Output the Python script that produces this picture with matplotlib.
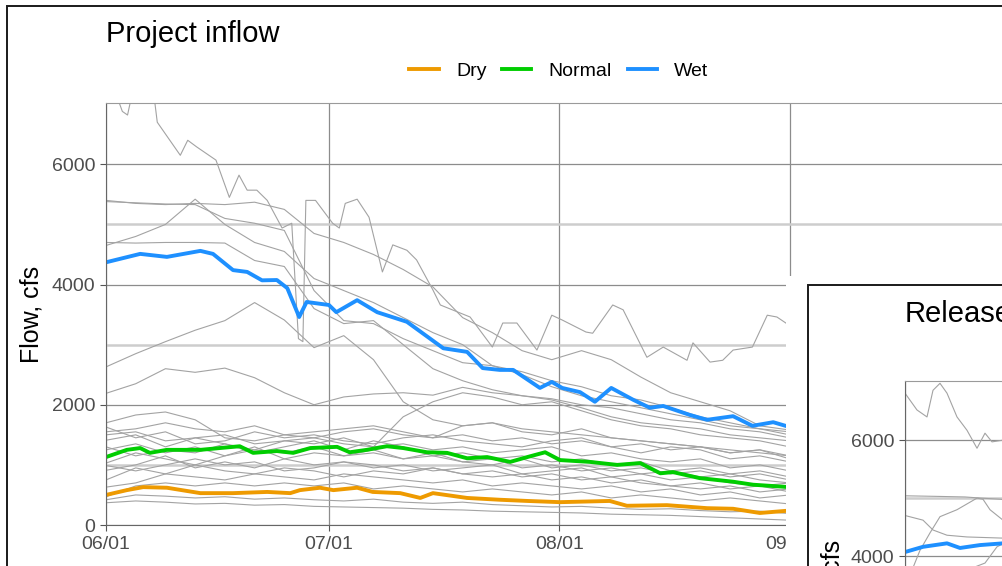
#!/usr/bin/env python3
"""Project inflow traces by year, with the release panel overlapping bottom right."""
import matplotlib

matplotlib.use("Agg")
import matplotlib.dates as mdates
import matplotlib.pyplot as plt
import pandas as pd
from matplotlib.patches import Rectangle
from matplotlib.ticker import FixedLocator

plt.rcParams["font.family"] = ["Liberation Sans", "DejaVu Sans"]

START = pd.Timestamp("2021-06-01")
END = pd.Timestamp("2021-10-01")

# --- data (day offsets from 06/01, flow in cfs) ---------------------------
wet_days = [0, 4.6, 8.2, 12.7, 14.4, 17.1, 19, 21, 23, 24.4, 26, 27, 30, 31, 33.8, 36.5,
            40.5, 45.4, 48.6, 50.7, 53, 54.8, 58.4, 60, 61.4, 63.8, 65.8, 68, 71, 73.2,
            75, 78.6, 80.9, 84.4, 87, 89.8, 92]
wet_flow = [4370, 4510, 4460, 4560, 4510, 4240, 4210, 4070, 4075, 3940, 3460, 3710, 3660,
            3540, 3740, 3540, 3380, 2940, 2880, 2610, 2580, 2580, 2280, 2380, 2280, 2210,
            2050, 2280, 2080, 1950, 1980, 1830, 1750, 1810, 1650, 1710, 1630]

normal_days = [0, 2.8, 4.6, 5.9, 8.2, 12.7, 15.3, 18, 19.8, 23, 25.2, 27.5, 31.1, 32.8,
               35.1, 37.8, 40, 43.2, 45.9, 48.6, 51.3, 54.4, 56.7, 59.1, 61.1, 65.1, 68.8,
               71.9, 74.6, 76.3, 79.9, 84.4, 87.1, 92]
normal_flow = [1130, 1250, 1280, 1200, 1250, 1250, 1280, 1310, 1200, 1230, 1200, 1280, 1300,
               1210, 1250, 1310, 1280, 1210, 1200, 1110, 1130, 1050, 1130, 1210, 1080, 1050,
               1000, 1030, 860, 880, 780, 720, 670, 630]

dry_days = [0, 2.8, 5, 8.2, 12.7, 17.1, 21.7, 24.8, 26.1, 28.8, 30.6, 33.8, 35.9, 39.6,
            42.3, 44, 48.6, 53, 56.7, 61.1, 67.8, 70.1, 75.5, 80.9, 84.4, 88, 92]
dry_flow = [500, 580, 630, 620, 530, 530, 550, 530, 580, 620, 580, 620, 550, 530, 450, 530,
            450, 420, 400, 380, 400, 320, 330, 280, 270, 200, 240]

# individual years, the high ones traced on their own days
peak_days = [1.7, 2.2, 2.9, 3.3]
peak_flow = [7050, 6880, 6820, 7050]

high_days = [6.5, 6.9, 10, 11, 12.2, 14.8, 16.6, 17.9, 19, 20.3, 21.7, 23.7, 25, 25.9, 26.5,
             26.9, 28.2, 30.5, 31.4, 32.2, 33.8, 35.4, 37.2, 38.6, 40.5, 41.8, 44, 45, 49,
             52, 53.4, 55.3, 58, 60, 61.4, 64.6, 65.5, 68.2, 69.6, 72.8, 75, 78.2, 79, 81.3,
             83, 84.4, 87, 89, 90.3, 91.5]
high_flow = [7100, 6700, 6150, 6400, 6290, 6070, 5450, 5820, 5570, 5570, 5400, 4940, 5020,
             3100, 3050, 5400, 5400, 5020, 4940, 5350, 5420, 5120, 4210, 4660, 4570, 4410,
             3910, 3660, 3460, 2960, 3360, 3360, 2910, 3490, 3410, 3210, 3190, 3660, 3580,
             2790, 2960, 2740, 3030, 2710, 2740, 2910, 2960, 3490, 3460, 3360]

# remaining years on a 4-day grid
grid_days = list(range(0, 93, 4))
year_e = [5400, 5350, 5330, 5350, 5330, 5370, 5250, 4850, 4700, 4500, 4250, 3960, 3450, 3200,
          2900, 2750, 2900, 2750, 2460, 2200, 2050, 1900, 1650, 1580]
year_e2 = [5380, 5360, 5340, 5330, 5100, 5020, 4900, 3900, 3400, 3350, 3100, 2900, 2700, 2650,
           2500, 2300, 2150, 2050, 1950, 1850, 1750, 1650, 1600, 1550]
year_f = [4700, 4690, 4700, 4700, 4690, 4400, 4300, 3600, 3350, 3400, 3000, 2600, 2400, 2250,
          2150, 2100, 2000, 1950, 1850, 1750, 1700, 1600, 1550, 1450]
year_g = [4650, 4800, 5000, 5420, 5000, 4700, 4550, 4100, 3900, 3700, 3450, 3200, 3000, 2650,
          2550, 2400, 2300, 2150, 2080, 1950, 1800, 1700, 1600, 1500]
year_h = [2630, 2850, 3050, 3240, 3400, 3700, 3410, 2950, 3150, 2750, 2050, 1750, 1650, 1700,
          1600, 1550, 1500, 1450, 1400, 1350, 1300, 1250, 1200, 1150]
year_j = [2190, 2350, 2600, 2540, 2610, 2450, 2200, 2000, 2130, 2180, 2200, 2160, 2290, 2200,
          2150, 2080, 1950, 1800, 1700, 1650, 1600, 1500, 1450, 1400]
year_k = [1500, 1550, 1400, 1450, 1500, 1350, 1400, 1450, 1350, 1300, 1800, 2050, 2200, 2130,
          2000, 2050, 1900, 1750, 1650, 1600, 1500, 1450, 1400, 1300]
year_01 = [1700, 1830, 1880, 1750, 1450, 1400, 1500, 1450, 1550, 1600, 1500, 1450, 1650, 1700,
           1550, 1500, 1600, 1450, 1400, 1350, 1300, 1200, 1250, 1150]
year_02 = [1630, 1450, 1550, 1350, 1400, 1550, 1450, 1500, 1400, 1350, 1450, 1500, 1400, 1350,
           1300, 1400, 1450, 1300, 1200, 1300, 1250, 1100, 1150, 1050]
year_03 = [1410, 1500, 1300, 1450, 1350, 1250, 1400, 1350, 1450, 1300, 1350, 1250, 1300, 1200,
           1250, 1300, 1150, 1200, 1100, 1050, 1100, 950, 1000, 900]
year_04 = [1300, 1150, 1250, 1200, 1350, 1200, 1300, 1400, 1250, 1400, 1300, 1150, 1200, 1100,
           1150, 1050, 1100, 1000, 1050, 900, 950, 850, 900, 800]
year_05 = [1030, 1200, 1100, 1000, 1150, 1300, 1100, 1200, 1150, 1250, 1100, 1200, 1050, 1100,
           950, 1000, 900, 950, 850, 900, 800, 850, 750, 700]
year_06 = [910, 1000, 1150, 950, 1050, 950, 1100, 1000, 1050, 950, 1000, 900, 950, 1000, 850,
           900, 950, 800, 850, 750, 800, 700, 650, 700]
year_07 = [750, 950, 850, 1000, 900, 850, 950, 900, 800, 900, 850, 950, 850, 800, 850, 750, 800,
           700, 750, 650, 700, 600, 650, 550]
year_08 = [630, 700, 850, 800, 750, 850, 800, 750, 850, 800, 750, 700, 750, 650, 700, 650, 600,
           650, 550, 600, 500, 550, 450, 500]
year_09 = [470, 650, 700, 650, 700, 650, 700, 650, 700, 600, 650, 600, 550, 600, 550, 500, 550,
           450, 500, 450, 400, 450, 400, 350]
year_10 = [420, 500, 480, 450, 470, 430, 450, 420, 400, 430, 380, 360, 380, 340, 320, 300, 310,
           280, 260, 270, 240, 220, 230, 190]
year_11 = [370, 400, 380, 350, 360, 330, 340, 310, 300, 290, 280, 260, 250, 230, 220, 210, 200,
           180, 170, 160, 140, 120, 100, 80]
year_12 = [1250, 1350, 1200, 1300, 1150, 1250, 1200, 1300, 1150, 1200, 1100, 1150, 1050, 1000,
           1100, 950, 1000, 900, 950, 850, 900, 800, 850, 750]
year_13 = [990, 900, 1000, 1100, 1000, 1050, 900, 950, 1050, 1000, 900, 950, 850, 900, 800,
           850, 750, 800, 700, 650, 600, 650, 550, 600]
year_14 = [1550, 1600, 1700, 1600, 1550, 1650, 1500, 1550, 1600, 1650, 1550, 1450, 1500, 1400,
           1450, 1350, 1400, 1300, 1350, 1250, 1300, 1200, 1250, 1100]

grid_years = [year_e, year_e2, year_f, year_g, year_h, year_j, year_k, year_01, year_02,
              year_03, year_04, year_05, year_06, year_07, year_08, year_09, year_10, year_11,
              year_12, year_13, year_14]

# release panel (only its top-left corner is in view)
rel_top_days = [0, 3, 5.5, 7, 8.75, 10.5, 13, 15.5, 18, 20, 21.75, 24.5, 27]
rel_top_flow = [6810, 6520, 6400, 6860, 6980, 6810, 6400, 6170, 5860, 6120, 5970, 6000, 5980]
rel_flat_days = [0, 8, 15, 19, 24, 27]
rel_flat_flow = [5040, 5030, 5020, 5000, 4980, 4950]
rel_fall_days = [0, 4.5, 7, 10.5, 15.5, 24.5, 27]
rel_fall_flow = [4700, 4620, 4450, 4360, 4330, 4310, 4300]
rel_rise_days = [2, 3.75, 6.25, 8.75, 13, 18, 19.5, 21.25, 24.5, 27]
rel_rise_flow = [3800, 4100, 4400, 4680, 4800, 5000, 4980, 4800, 4620, 4500]
rel_low_days = [17, 20, 23, 27]
rel_low_flow = [3800, 3880, 4160, 4300]
rel_wet_days = [0, 4.5, 10.5, 13.75, 18.75, 24.5, 27]
rel_wet_flow = [4070, 4160, 4220, 4140, 4190, 4220, 4200]

W, H = 1003, 566
DRY, NORMAL, WET, GREY = "#EE9A00", "#00CD00", "#1E90FF", "#a3a3a3"


def to_dates(days):
    return START + pd.to_timedelta(days, unit="D")


def fig_box(left, top, right, bottom):
    return [left / W, 1 - bottom / H, (right - left) / W, (bottom - top) / H]


def style_axes(ax):
    ax.set_xlim(START, END)
    ax.set_ylim(0, 7020)
    ax.set_axisbelow(True)
    ax.yaxis.set_major_locator(FixedLocator([0, 2000, 4000, 6000]))
    ax.yaxis.set_minor_locator(FixedLocator([1000, 3000, 5000]))
    ax.xaxis.set_major_locator(mdates.MonthLocator())
    ax.xaxis.set_major_formatter(mdates.DateFormatter("%m/%d"))
    ax.grid(which="major", color="#8c8c8c", lw=0.9)
    ax.grid(which="minor", axis="y", color="#cdcdcd", lw=1.8)
    ax.tick_params(which="major", length=4.3, width=0.8, color="#555555",
                   labelsize=14, labelcolor="#4d4d4d", pad=3.5)
    ax.tick_params(which="minor", length=0)
    for side in ("left", "bottom"):
        ax.spines[side].set_color("#666666")
    for side in ("top", "right"):
        ax.spines[side].set_color("#9a9a9a")


fig = plt.figure(figsize=(W / 100, H / 100), dpi=100)

# main panel: project inflow
ax = fig.add_axes(fig_box(106, 103, 106 + 122 * 7.43, 525))
style_axes(ax)
ax.plot(to_dates(peak_days), peak_flow, color=GREY, lw=0.8)
ax.plot(to_dates(high_days), high_flow, color=GREY, lw=0.8)
for year in grid_years:
    ax.plot(to_dates(grid_days), year, color=GREY, lw=0.8)
dry_line, = ax.plot(to_dates(dry_days), dry_flow, color=DRY, lw=2.8, label="Dry")
normal_line, = ax.plot(to_dates(normal_days), normal_flow, color=NORMAL, lw=2.8, label="Normal")
wet_line, = ax.plot(to_dates(wet_days), wet_flow, color=WET, lw=2.8, label="Wet")

fig.text(106 / W, 1 - 42 / H, "Project inflow", fontsize=21, va="baseline", ha="left")
fig.text(32 / W, 1 - 314 / H, "Flow, cfs", fontsize=18, rotation=90, ha="center", va="center")
fig.legend(handles=[dry_line, normal_line, wet_line], loc="center",
           bbox_to_anchor=(559 / W, 1 - 71 / H), ncol=3, frameon=False, fontsize=14,
           handlelength=1.5, handletextpad=0.9, columnspacing=0.8)

# outer frame of the main plot
fig.add_artist(Rectangle((7 / W, -0.5), 2, 1.5 - 6 / H, transform=fig.transFigure,
                         fill=False, ec="#1a1a1a", lw=1.4, zorder=1))

# release panel pasted over the lower right corner
fig.add_artist(Rectangle((786 / W, -0.5), 1, 1.5 - 276 / H, transform=fig.transFigure,
                         fc="white", ec="none", zorder=5))
fig.add_artist(Rectangle((808 / W, -0.5), 1, 1.5 - 285 / H, transform=fig.transFigure,
                         fill=False, ec="#1a1a1a", lw=1.4, zorder=6))

inset = fig.add_axes(fig_box(905, 381, 905 + 122 * 4.0, 788), zorder=7)
style_axes(inset)
for d, v in [(rel_top_days, rel_top_flow), (rel_flat_days, rel_flat_flow),
             (rel_fall_days, rel_fall_flow), (rel_rise_days, rel_rise_flow),
             (rel_low_days, rel_low_flow)]:
    inset.plot(to_dates(d), v, color=GREY, lw=0.8)
inset.plot(to_dates(rel_wet_days), rel_wet_flow, color=WET, lw=2.8)

fig.text(905 / W, 1 - 322 / H, "Release", fontsize=21, va="baseline", ha="left", zorder=8)
fig.text(833 / W, 1 - 588 / H, "Flow, cfs", fontsize=18, rotation=90, ha="center",
         va="center", zorder=8)

fig.savefig("out.png", dpi=100)
